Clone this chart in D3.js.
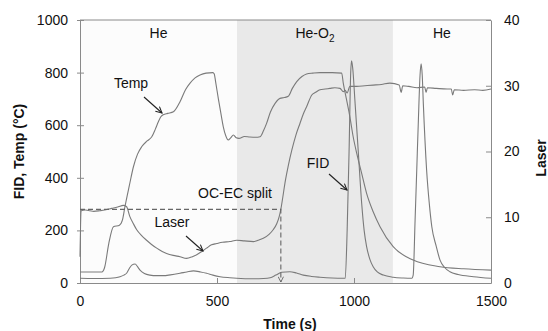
<!DOCTYPE html>
<html>
<head>
<meta charset="utf-8">
<script src="https://cdn.jsdelivr.net/npm/d3@7"></script>
<style>
  body { margin: 0; background: #fff; }
  svg { font-family: "Liberation Sans", Arial, sans-serif; }
</style>
</head>
<body>
<div id="chart"></div>
<script>
// Temperature (°C, left axis)
const tempTime = [0, 80, 90, 105, 122, 144, 155, 164, 180, 195, 210, 225, 245, 262, 275, 286, 295, 304, 320, 341, 365, 385, 401, 420, 438, 460, 485, 490, 495, 505, 515, 523, 532, 541, 550, 560, 570, 580, 600, 620, 640, 657, 670, 681, 695, 712, 730, 745, 760, 775, 791, 810, 827, 850, 876, 920, 955, 961, 973, 985, 997, 1010, 1028, 1046, 1070, 1095, 1143, 1216, 1314, 1400, 1500];
const tempValues = [42, 42, 60, 150, 214, 220, 240, 290, 370, 442, 490, 518, 540, 556, 585, 613, 632, 640, 645, 651, 689, 735, 759, 780, 791, 798, 800, 795, 765, 700, 640, 594, 560, 544, 552, 563, 552, 550, 557, 555, 554, 556, 580, 607, 650, 683, 702, 705, 710, 740, 766, 785, 795, 798, 800, 800, 798, 759, 696, 632, 556, 493, 417, 341, 271, 214, 138, 87, 62, 54, 49];

// Laser signal (right axis)
const laserTime = [0, 4, 20, 36, 50, 73, 90, 110, 122, 140, 158, 170, 182, 195, 207, 225, 243, 260, 280, 300, 316, 340, 365, 389, 410, 426, 445, 462, 480, 499, 520, 547, 572, 600, 633, 650, 669, 690, 705, 718, 727, 733, 740, 748, 760, 773, 788, 803, 815, 827, 846, 860, 876, 895, 912, 930, 949, 961, 968, 975, 985, 1010, 1040, 1070, 1100, 1131, 1165, 1172, 1178, 1200, 1230, 1258, 1263, 1268, 1300, 1340, 1355, 1360, 1366, 1400, 1440, 1470, 1500];
const laserValues = [4, 11, 11.1, 11.0, 10.9, 11.0, 11.1, 11.3, 11.4, 11.6, 11.8, 11.6, 10.1, 9.0, 8.1, 7.2, 6.5, 5.9, 5.3, 4.8, 4.5, 4.2, 4.0, 3.75, 4.0, 4.3, 4.8, 5.3, 5.8, 6.0, 6.2, 6.3, 6.5, 6.4, 6.3, 6.5, 6.8, 7.4, 8.1, 9.0, 10.1, 11.2, 13, 15.2, 17.8, 20.2, 22.5, 24.3, 25.7, 26.8, 28.6, 29.0, 29.4, 29.5, 29.6, 29.7, 29.6, 29.1, 29.3, 28.9, 29.9, 29.9, 30.0, 30.1, 30.2, 30.4, 30.1, 29.0, 30.0, 29.9, 29.7, 29.8, 29.0, 29.7, 29.6, 29.5, 29.5, 28.6, 29.4, 29.3, 29.4, 29.3, 29.5];

// FID signal (left axis)
const fidTime = [0, 50, 110, 130, 146, 160, 170, 180, 189, 201, 210, 219, 235, 255, 280, 304, 330, 365, 390, 414, 440, 462, 485, 511, 547, 572, 633, 670, 694, 715, 736, 766, 790, 815, 845, 876, 920, 961, 968, 975, 982, 988, 991, 995, 1004, 1016, 1028, 1037, 1046, 1058, 1070, 1085, 1107, 1143, 1180, 1211, 1216, 1223, 1229, 1235, 1241, 1245, 1249, 1253, 1265, 1275, 1284, 1300, 1314, 1330, 1350, 1380, 1436, 1500];
const fidValues = [18, 17, 18, 20, 24, 30, 37, 55, 68, 72, 62, 49, 36, 30, 28, 28, 31, 37, 42, 46, 42, 37, 30, 24, 20, 18, 16, 17, 20, 30, 41, 43, 38, 30, 25, 22, 19, 18, 18, 200, 500, 800, 845, 820, 683, 493, 303, 200, 138, 90, 62, 42, 30, 22, 19, 18, 30, 240, 430, 620, 790, 833, 790, 683, 430, 300, 214, 140, 87, 60, 43, 32, 24, 18];

// gas phases and the OC-EC split
const phaseLabels = ["He", "He-O2", "He"];
const phaseStart = [0, 573, 1142];
const phaseEnd = [573, 1142, 1500];
const splitTime = 733;
const splitLaser = 11.2;

// tick labels
const xTicks = [0, 500, 1000, 1500];
const yLeftTicks = [0, 200, 400, 600, 800, 1000];
const yRightTicks = [0, 10, 20, 30, 40];

const width = 548, height = 331;
const margin = { top: 20, right: 57, bottom: 48, left: 80 };

const svg = d3.select("#chart").append("svg")
  .attr("width", width).attr("height", height);

const x = d3.scaleLinear().domain([0, 1500]).range([margin.left, width - margin.right]);
const yL = d3.scaleLinear().domain([0, 1000]).range([height - margin.bottom, margin.top]);
const yR = d3.scaleLinear().domain([0, 40]).range([height - margin.bottom, margin.top]);

const axisColor = "#8a8a8a";
const lineColor = "#7a7a7a";
const fmt = d3.format("d");

// plot background + phase shading
svg.append("rect")
  .attr("x", x(0)).attr("y", yL(1000))
  .attr("width", x(1500) - x(0)).attr("height", yL(0) - yL(1000))
  .attr("fill", "#fcfcfc");

svg.selectAll(".phase")
  .data(phaseLabels.map((d, i) => ({ label: d, t0: phaseStart[i], t1: phaseEnd[i] })))
  .enter().filter(d => d.label === "He-O2")
  .append("rect")
  .attr("x", d => x(d.t0)).attr("y", yL(1000))
  .attr("width", d => x(d.t1) - x(d.t0)).attr("height", yL(0) - yL(1000))
  .attr("fill", "#e9e9e9");

// phase labels
phaseLabels.forEach((lab, i) => {
  const t = svg.append("text")
    .attr("x", x((phaseStart[i] + phaseEnd[i]) / 2))
    .attr("y", 38)
    .attr("text-anchor", "middle")
    .attr("font-size", 14)
    .attr("fill", "#111");
  if (lab === "He-O2") {
    t.append("tspan").text("He-O");
    t.append("tspan").attr("font-size", 10).attr("dy", 4).text("2");
  } else {
    t.text(lab);
  }
});

// axes
const gx = svg.append("g")
  .attr("transform", `translate(0,${yL(0)})`)
  .call(d3.axisBottom(x).tickValues(xTicks).tickFormat(fmt).tickSizeInner(-5).tickSizeOuter(0));
gx.selectAll(".tick text").attr("y", 13);

const gyl = svg.append("g")
  .attr("transform", `translate(${x(0)},0)`)
  .call(d3.axisLeft(yL).tickValues(yLeftTicks).tickFormat(fmt).tickSizeOuter(0));
gyl.selectAll(".tick line").attr("x1", -3).attr("x2", 4);
gyl.selectAll(".tick text").attr("x", -12);

const gyr = svg.append("g")
  .attr("transform", `translate(${x(1500)},0)`)
  .call(d3.axisRight(yR).tickValues(yRightTicks).tickFormat(fmt).tickSizeInner(-5).tickSizeOuter(0));
gyr.selectAll(".tick text").attr("x", 13);

[gx, gyl, gyr].forEach(g => {
  g.selectAll("path, line").attr("stroke", axisColor);
  g.selectAll("text").attr("font-size", 14).attr("fill", "#111")
    .attr("font-family", "Liberation Sans, Arial, sans-serif");
});

// top border
svg.append("line")
  .attr("x1", x(0)).attr("x2", x(1500)).attr("y1", yL(1000)).attr("y2", yL(1000))
  .attr("stroke", axisColor);

// series
const line = (ys) => d3.line()
  .x(d => x(d[0]))
  .y(d => ys(d[1]))
  .curve(d3.curveMonotoneX);

const series = [
  { t: tempTime, v: tempValues, y: yL },
  { t: laserTime, v: laserValues, y: yR },
  { t: fidTime, v: fidValues, y: yL }
];

svg.selectAll(".series")
  .data(series)
  .enter().append("path")
  .attr("class", "series")
  .attr("fill", "none")
  .attr("stroke", lineColor)
  .attr("stroke-width", 1.1)
  .attr("d", s => line(s.y)(s.t.map((t, i) => [t, s.v[i]])));

// arrow markers
const defs = svg.append("defs");
defs.append("marker")
  .attr("id", "arrow")
  .attr("viewBox", "0 0 10 10")
  .attr("refX", 9).attr("refY", 5)
  .attr("markerWidth", 7).attr("markerHeight", 7)
  .attr("orient", "auto")
  .append("path")
  .attr("d", "M1,1 L9,5 L1,9")
  .attr("fill", "none").attr("stroke", "#222").attr("stroke-width", 1.4);

defs.append("marker")
  .attr("id", "arrowGray")
  .attr("viewBox", "0 0 10 10")
  .attr("refX", 9).attr("refY", 5)
  .attr("markerWidth", 6).attr("markerHeight", 6)
  .attr("orient", "auto")
  .append("path")
  .attr("d", "M1,1 L9,5 L1,9")
  .attr("fill", "none").attr("stroke", "#666").attr("stroke-width", 1.4);

// OC-EC split dashed line
svg.append("path")
  .attr("d", `M${x(0)},${yR(splitLaser)} H${x(splitTime)} V${yL(0) - 1}`)
  .attr("fill", "none")
  .attr("stroke", "#666")
  .attr("stroke-width", 1.1)
  .attr("stroke-dasharray", "5,3")
  .attr("marker-end", "url(#arrowGray)");

// annotations (label, text position, arrow start/end)
const notes = [
  { text: "Temp", tx: 131, ty: 88, a: [144, 97, 162, 113] },
  { text: "Laser", tx: 172, ty: 227, a: [186, 236, 203, 251] },
  { text: "OC-EC split", tx: 235, ty: 198, a: null },
  { text: "FID", tx: 318, ty: 168, a: [329, 174, 347, 190] }
];

svg.selectAll(".note")
  .data(notes)
  .enter().append("text")
  .attr("x", d => d.tx).attr("y", d => d.ty)
  .attr("text-anchor", "middle")
  .attr("font-size", 14)
  .attr("fill", "#111")
  .text(d => d.text);

svg.selectAll(".arrow")
  .data(notes.filter(d => d.a))
  .enter().append("line")
  .attr("x1", d => d.a[0]).attr("y1", d => d.a[1])
  .attr("x2", d => d.a[2]).attr("y2", d => d.a[3])
  .attr("stroke", "#222").attr("stroke-width", 1.1)
  .attr("marker-end", "url(#arrow)");

// axis titles
svg.append("text")
  .attr("transform", `translate(19,${(yL(0) + yL(1000)) / 2}) rotate(-90)`)
  .attr("text-anchor", "middle").attr("dy", "0.35em")
  .attr("font-size", 14).attr("font-weight", "bold").attr("fill", "#111")
  .text("FID, Temp (°C)");

svg.append("text")
  .attr("transform", `translate(541,158) rotate(-90)`)
  .attr("text-anchor", "middle").attr("dy", "0.35em")
  .attr("font-size", 14).attr("font-weight", "bold").attr("fill", "#111")
  .text("Laser");

svg.append("text")
  .attr("x", 290).attr("y", 329)
  .attr("text-anchor", "middle")
  .attr("font-size", 14).attr("font-weight", "bold").attr("fill", "#111")
  .text("Time (s)");
</script>
</body>
</html>
